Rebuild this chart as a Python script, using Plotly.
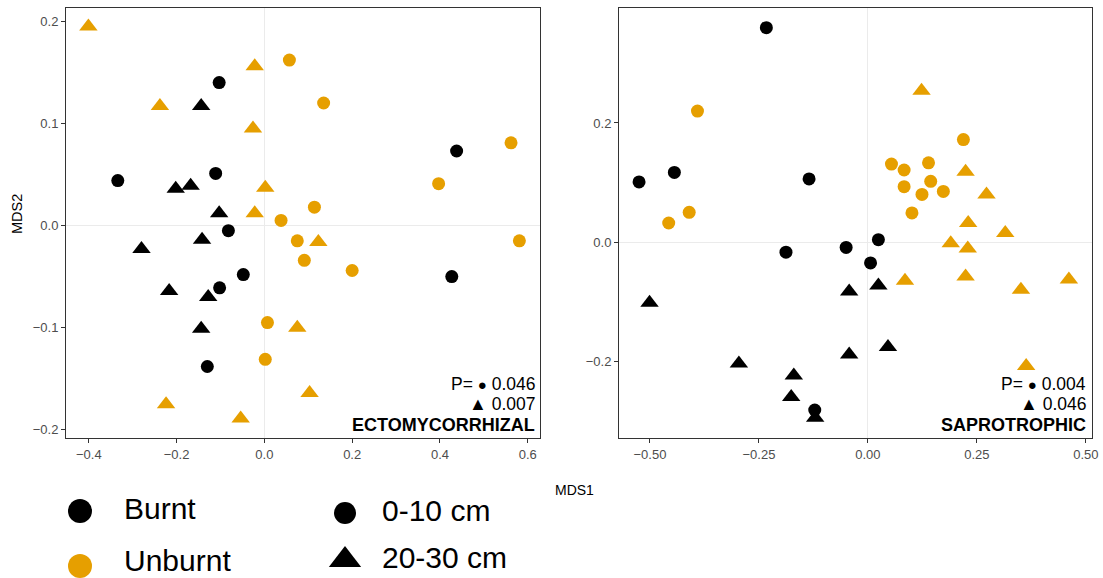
import plotly.graph_objects as go

# ---------------- DATA ----------------
# ECTOMYCORRHIZAL panel
ecm_burnt_0_10_x = [-0.103, 0.438, -0.334, -0.111, -0.082, -0.048, 0.427, -0.102, -0.130]
ecm_burnt_0_10_y = [0.140, 0.073, 0.044, 0.051, -0.005, -0.048, -0.050, -0.061, -0.138]
ecm_burnt_20_30_x = [-0.144, -0.202, -0.168, -0.103, -0.142, -0.280, -0.217, -0.128, -0.144]
ecm_burnt_20_30_y = [0.117, 0.036, 0.039, 0.012, -0.014, -0.023, -0.064, -0.070, -0.101]
ecm_unburnt_0_10_x = [0.057, 0.135, 0.562, 0.397, 0.114, 0.038, 0.075, 0.091, 0.200, 0.581, 0.007, 0.002]
ecm_unburnt_0_10_y = [0.162, 0.120, 0.081, 0.041, 0.018, 0.005, -0.015, -0.034, -0.044, -0.015, -0.095, -0.131]
ecm_unburnt_20_30_x = [-0.401, -0.022, -0.238, -0.026, 0.002, -0.022, 0.123, 0.075, 0.103, -0.224, -0.054]
ecm_unburnt_20_30_y = [0.195, 0.156, 0.117, 0.095, 0.037, 0.012, -0.016, -0.100, -0.164, -0.175, -0.189]

# SAPROTROPHIC panel
sap_burnt_0_10_x = [-0.233, -0.525, -0.444, -0.135, 0.024, -0.050, -0.188, 0.006, -0.122]
sap_burnt_0_10_y = [0.360, 0.101, 0.117, 0.106, 0.004, -0.009, -0.017, -0.035, -0.282]
sap_burnt_20_30_x = [0.024, -0.043, -0.501, 0.046, -0.043, -0.296, -0.170, -0.176, -0.121]
sap_burnt_20_30_y = [-0.073, -0.083, -0.102, -0.176, -0.189, -0.204, -0.224, -0.260, -0.295]
sap_unburnt_0_10_x = [-0.391, 0.219, 0.054, 0.083, 0.139, 0.144, 0.083, 0.124, 0.173, 0.101, -0.410, -0.457]
sap_unburnt_0_10_y = [0.220, 0.172, 0.131, 0.121, 0.133, 0.102, 0.093, 0.080, 0.085, 0.049, 0.050, 0.032]
sap_unburnt_20_30_x = [0.123, 0.224, 0.272, 0.230, 0.315, 0.190, 0.229, 0.085, 0.224, 0.461, 0.351, 0.363]
sap_unburnt_20_30_y = [0.254, 0.118, 0.080, 0.032, 0.015, -0.002, -0.011, -0.065, -0.058, -0.063, -0.080, -0.208]

panel_titles = ["ECTOMYCORRHIZAL", "SAPROTROPHIC"]
p_circle = ["0.046", "0.004"]
p_triangle = ["0.007", "0.046"]

ecm_xticks = [-0.4, -0.2, 0.0, 0.2, 0.4, 0.6]
ecm_yticks = [-0.2, -0.1, 0.0, 0.1, 0.2]
sap_xticks = [-0.50, -0.25, 0.0, 0.25, 0.50]
sap_yticks = [-0.2, 0.0, 0.2]

fire_labels = ["Burnt", "Unburnt"]
depth_labels = ["0-10 cm", "20-30 cm"]

# ---------------- STYLE ----------------
BLACK = "#000000"
ORANGE = "#E69F00"
FONT = "Liberation Sans, Arial, sans-serif"
W, H = 1103, 578
CIRCLE_SIZE = 13
TRI_SIZE = 16

fig = go.Figure()

def add_group(x, y, color, symbol, xa, ya):
    fig.add_trace(go.Scatter(
        x=x, y=y, mode="markers", xaxis=xa, yaxis=ya, showlegend=False,
        marker=dict(color=color, symbol=symbol, opacity=1,
                    size=CIRCLE_SIZE if symbol == "circle" else TRI_SIZE,
                    line=dict(width=0)),
        cliponaxis=False, hoverinfo="skip"))

add_group(ecm_burnt_0_10_x, ecm_burnt_0_10_y, BLACK, "circle", "x", "y")
add_group(ecm_burnt_20_30_x, ecm_burnt_20_30_y, BLACK, "triangle-up", "x", "y")
add_group(ecm_unburnt_0_10_x, ecm_unburnt_0_10_y, ORANGE, "circle", "x", "y")
add_group(ecm_unburnt_20_30_x, ecm_unburnt_20_30_y, ORANGE, "triangle-up", "x", "y")

add_group(sap_burnt_0_10_x, sap_burnt_0_10_y, BLACK, "circle", "x2", "y2")
add_group(sap_burnt_20_30_x, sap_burnt_20_30_y, BLACK, "triangle-up", "x2", "y2")
add_group(sap_unburnt_0_10_x, sap_unburnt_0_10_y, ORANGE, "circle", "x2", "y2")
add_group(sap_unburnt_20_30_x, sap_unburnt_20_30_y, ORANGE, "triangle-up", "x2", "y2")

# ---------------- LEGEND (drawn on a hidden pixel-space axis) ----------------
leg_key_x = [80, 80, 345, 345]
leg_key_y = [511, 566, 513, 560]
leg_key_color = [BLACK, ORANGE, BLACK, BLACK]
leg_key_symbol = ["circle", "circle", "circle", "triangle-up"]
leg_key_size = [24, 24, 22, 28]
fig.add_trace(go.Scatter(
    x=leg_key_x, y=leg_key_y, mode="markers", xaxis="x3", yaxis="y3",
    showlegend=False, cliponaxis=False, hoverinfo="skip",
    marker=dict(color=leg_key_color, symbol=leg_key_symbol, size=leg_key_size,
                opacity=1, line=dict(width=0))))
leg_text_x = [124, 124, 382, 382]
leg_text_y = [511, 563, 513, 560]
fig.add_trace(go.Scatter(
    x=leg_text_x, y=leg_text_y, mode="text", xaxis="x3", yaxis="y3",
    text=fire_labels + depth_labels, textposition="middle right",
    textfont=dict(family=FONT, size=30, color="#000000"),
    showlegend=False, cliponaxis=False, hoverinfo="skip"))

def ax(domain, rng, ticks, fmt):
    return dict(
        domain=domain, range=rng, tickmode="array", tickvals=ticks,
        tickformat=fmt, ticks="outside", ticklen=4, tickwidth=1, tickcolor="#333333",
        tickfont=dict(family=FONT, size=13, color="#4D4D4D"),
        showline=True, linecolor="#333333", linewidth=1, mirror=True,
        showgrid=False, zeroline=True, zerolinecolor="#EBEBEB", zerolinewidth=1.2,
        automargin=False, fixedrange=True)

ecm_dom_x = [66 / W, 540 / W]
sap_dom_x = [619 / W, 1092 / W]
dom_y = [(H - 438) / H, (H - 8) / H]
dom_y2 = [(H - 438) / H, (H - 8) / H]

layout = dict(
    template="none",
    width=W, height=H, margin=dict(l=0, r=0, t=0, b=0, pad=0, autoexpand=False),
    paper_bgcolor="white", plot_bgcolor="rgba(0,0,0,0)",
    font=dict(family=FONT, color="#000000"),
    xaxis=ax(ecm_dom_x, [-0.452, 0.628], ecm_xticks, ".1f"),
    yaxis=ax(dom_y, [-0.208, 0.213], ecm_yticks, ".1f"),
    xaxis2=ax(sap_dom_x, [-0.571, 0.514], sap_xticks, ".2f"),
    yaxis2=ax(dom_y2, [-0.329, 0.393], sap_yticks, ".1f"),
    xaxis3=dict(domain=[0, 1], range=[0, W], visible=False, fixedrange=True, automargin=False),
    yaxis3=dict(domain=[0, (H - 470) / H], range=[H, 470], visible=False, fixedrange=True,
                automargin=False),
    showlegend=False,
)
layout["xaxis2"]["anchor"] = "y2"
layout["yaxis2"]["anchor"] = "x2"
layout["xaxis"]["anchor"] = "y"
layout["yaxis"]["anchor"] = "x"
layout["xaxis3"]["anchor"] = "y3"
layout["yaxis3"]["anchor"] = "x3"
fig.update_layout(**layout)

annots = []
for right_px, title, pc, pt in [(537, panel_titles[0], p_circle[0], p_triangle[0]),
                                (1088, panel_titles[1], p_circle[1], p_triangle[1])]:
    xr = right_px / W
    annots.append(dict(x=xr, y=(H - 384) / H, xref="paper", yref="paper",
                       xanchor="right", yanchor="middle", showarrow=False,
                       text="P= <span style='font-size:15px'>●</span> " + pc,
                       font=dict(family=FONT, size=17.5, color="#000000")))
    annots.append(dict(x=xr, y=(H - 404) / H, xref="paper", yref="paper",
                       xanchor="right", yanchor="middle", showarrow=False,
                       text="<span style='font-size:18px'>▲</span> " + pt,
                       font=dict(family=FONT, size=17.5, color="#000000")))
    annots.append(dict(x=xr, y=(H - 425) / H, xref="paper", yref="paper",
                       xanchor="right", yanchor="middle", showarrow=False,
                       text="<b>" + title + "</b>",
                       font=dict(family=FONT, size=18, color="#000000")))
annots.append(dict(x=575 / W, y=(H - 490) / H, xref="paper", yref="paper",
                   xanchor="center", yanchor="middle", showarrow=False,
                   text="MDS1", font=dict(family=FONT, size=14, color="#000000")))
annots.append(dict(x=17 / W, y=(H - 214) / H, xref="paper", yref="paper",
                   xanchor="center", yanchor="middle", showarrow=False, textangle=-90,
                   text="MDS2", font=dict(family=FONT, size=14.5, color="#000000")))
fig.update_layout(annotations=annots)

# remove the browser's default 8px page margin so the figure fills the window
fig.write_html(
    "out.html",
    config={"displayModeBar": False},
    post_script="document.body.style.margin='0';document.body.style.overflow='hidden';",
)
